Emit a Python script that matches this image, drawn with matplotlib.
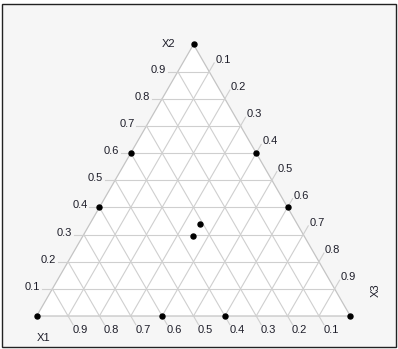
import numpy as np
import matplotlib
matplotlib.use("Agg")
import matplotlib.pyplot as plt
from matplotlib.patches import Rectangle, Polygon

plt.rcParams['font.family'] = ['Liberation Sans', 'DejaVu Sans']

# Data: compositions (X1, X2, X3)
x1_vals = [1.0, 0.0, 0.0, 0.4, 0.0, 0.6, 0.0, 0.6, 0.4, 0.31, 0.355]
x2_vals = [0.0, 1.0, 0.0, 0.6, 0.6, 0.4, 0.4, 0.0, 0.0, 0.34, 0.295]
x3_vals = [0.0, 0.0, 1.0, 0.0, 0.4, 0.0, 0.6, 0.4, 0.6, 0.35, 0.35]
tick_vals = [0.1, 0.2, 0.3, 0.4, 0.5, 0.6, 0.7, 0.8, 0.9]
tick_labels = ["0.1", "0.2", "0.3", "0.4", "0.5", "0.6", "0.7", "0.8", "0.9"]
axis_names = ["X1", "X2", "X3"]

W, H = 398, 349
S = 313.6          # triangle side in pixels
OX, OY = 36.7, 316  # bottom-left vertex pixel position
px = 1.0 / S
R3 = np.sqrt(3) / 2


def tern(a, b, c):
    a, b, c = np.asarray(a, float), np.asarray(b, float), np.asarray(c, float)
    t = a + b + c
    return (c + b / 2) / t, (b * R3) / t


fig = plt.figure(figsize=(W / 100, H / 100), dpi=100)
ax = fig.add_axes([0, 0, 1, 1])
ax.set_xlim(-OX * px, (W - OX) * px)
ax.set_ylim(-(H - OY) * px, OY * px)
ax.axis('off')

def P(xp, yp):
    return ((xp - OX) * px, (OY - yp) * px)

# frame
x0, y0 = P(1.5, 346.5)
x1_, y1_ = P(396, 3.5)
ax.add_patch(Rectangle((x0, y0), x1_ - x0, y1_ - y0, facecolor='#f6f6f6',
                       edgecolor='#222222', lw=1.0, zorder=0))

# triangle
tri = np.array([tern(1, 0, 0), tern(0, 0, 1), tern(0, 1, 0)])
ax.add_patch(Polygon(tri, closed=True, facecolor='white', edgecolor='#c4c4c4',
                     lw=0.9, zorder=1))

gc = '#cfcfcf'
tl = 10 * px
fs = 8
tc = '#1e1e2a'
for v, lab in zip(tick_vals, tick_labels):
    # X1 = v line: from bottom (X2=0) to left edge (X3=0)
    xa, ya = tern(v, 0, 1 - v)
    xb, yb = tern(v, 1 - v, 0)
    ax.plot([xa, xb], [ya, yb], color=gc, lw=0.8, zorder=2)
    # X2 = v line
    xa2, ya2 = tern(1 - v, v, 0)
    xb2, yb2 = tern(0, v, 1 - v)
    ax.plot([xa2, xb2], [ya2, yb2], color=gc, lw=0.8, zorder=2)
    # X3 = v line
    xa3, ya3 = tern(1 - v, 0, v)
    xb3, yb3 = tern(0, 1 - v, v)
    ax.plot([xa3, xb3], [ya3, yb3], color=gc, lw=0.8, zorder=2)

    # X1 ticks on bottom, extending down-right
    ex, ey = xa + tl * 0.5, ya - tl * R3
    ax.plot([xa, ex], [ya, ey], color=gc, lw=0.8, zorder=2)
    ax.text(ex - 0.5 * px, ey - 0.5 * px, lab, ha='left', va='top', fontsize=fs, color=tc)
    # X2 ticks on left edge, extending left
    ex, ey = xa2 - tl, ya2
    ax.plot([xa2, ex], [ya2, ey], color=gc, lw=0.8, zorder=2)
    ax.text(ex - 2 * px, ey + 2 * px, lab, ha='right', va='center', fontsize=fs, color=tc)
    # X3 ticks on right edge, extending up-right
    ex, ey = xb3 + tl * 0.5, yb3 + tl * R3
    ax.plot([xb3, ex], [yb3, ey], color=gc, lw=0.8, zorder=2)
    ax.text(ex + 1 * px, ey + 3 * px, lab, ha='left', va='center', fontsize=fs, color=tc)

# axis names
ax.text(*P(168.5, 44), axis_names[1], ha='center', va='center', fontsize=fs, color=tc)
ax.text(*P(44, 338), axis_names[0], ha='center', va='center', fontsize=fs, color=tc)
ax.text(*P(376, 290.5), axis_names[2], ha='center', va='center', fontsize=fs, color=tc, rotation=90)

# points
xs, ys = tern(x1_vals, x2_vals, x3_vals)
ax.plot(xs, ys, 'o', color='black', ms=3.6, zorder=5, clip_on=False)

fig.savefig('out.png', dpi=100)
